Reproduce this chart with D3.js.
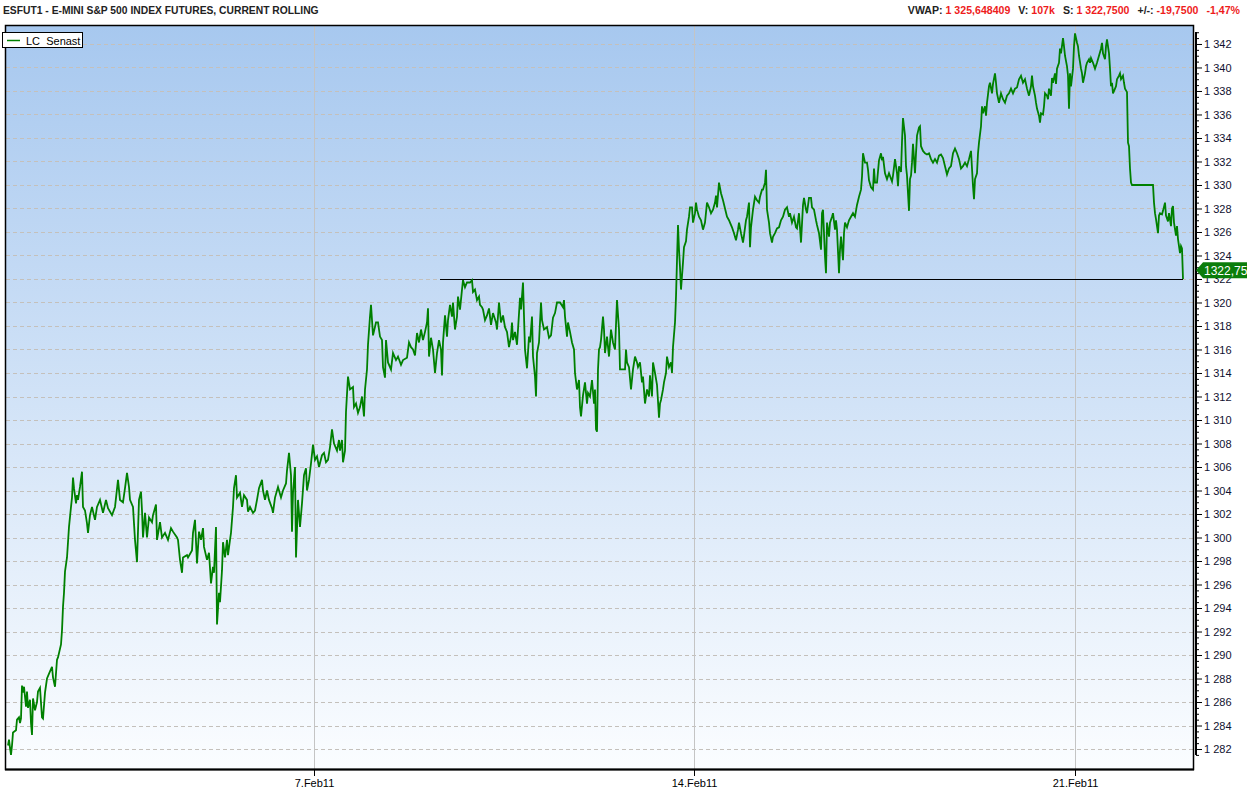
<!DOCTYPE html>
<html>
<head>
<meta charset="utf-8">
<script src="https://cdn.jsdelivr.net/npm/d3@7"></script>
<style>
  body { margin: 0; background: #fff; }
  svg { display: block; font-family: "Liberation Sans", Arial, sans-serif; }
</style>
</head>
<body>
<svg id="chart" width="1247" height="791"></svg>
<script>
// --- data -------------------------------------------------------------
const title = "ESFUT1 - E-MINI S&P 500 INDEX FUTURES, CURRENT ROLLING";
const statNames  = ["VWAP:", "V:", "S:", "+/-:", ""];
const statValues = ["1 325,648409", "107k", "1 322,7500", "-19,7500", "-1,47%"];
const seriesName = "LC  Senast";

// week start ticks, as bar number (intraday bars)
const dateTicks  = [306, 686, 1067];
const dateLabels = ["7.Feb11", "14.Feb11", "21.Feb11"];

const priceTicks = [1282, 1284, 1286, 1288, 1290, 1292, 1294, 1296, 1298, 1300, 1302, 1304,
  1306, 1308, 1310, 1312, 1314, 1316, 1318, 1320, 1322, 1324, 1326, 1328, 1330, 1332, 1334,
  1336, 1338, 1340, 1342];

const lastPrice = 1322.75;
const lastLabel = "1322,75";
const refLevel = 1322.0;       // horizontal line
const refFrom = 432, refTo = 1175;

// [bar, price]
const lcSenast = [
[0,1282.3],[1,1282.8],[2,1282.1],[3,1281.5],[4,1282.3],[5,1283.4],[8,1283.6],[9,1284.5],[11,1284.7],[12,1284.2],
[13,1284.6],[14,1287.4],[15,1286.8],[16,1287.3],[18,1285.6],[19,1286.9],[20,1285.5],[22,1286.2],[23,1284.2],[24,1283.2],
[25,1286.3],[27,1285.3],[29,1286.0],[30,1286.9],[32,1287.2],[34,1284.7],[35,1284.6],[37,1286.8],[39,1288.0],[42,1288.6],
[44,1289.0],[45,1288.1],[47,1287.3],[49,1289.6],[50,1289.8],[53,1290.9],[54,1292.1],[55,1294.1],[56,1295.3],[57,1297.1],
[59,1298.3],[60,1299.6],[61,1300.9],[63,1302.6],[64,1303.4],[65,1305.1],[66,1304.2],[68,1302.9],[69,1303.6],[70,1303.2],
[72,1304.3],[74,1305.6],[75,1302.6],[77,1302.3],[79,1301.2],[80,1300.4],[82,1301.9],[84,1302.6],[87,1301.5],[89,1302.6],
[92,1303.2],[95,1302.1],[98,1303.2],[100,1302.5],[104,1301.9],[107,1302.6],[110,1304.9],[112,1303.2],[115,1303.0],[117,1304.2],
[119,1305.5],[121,1304.3],[122,1303.2],[125,1302.6],[126,1301.2],[127,1299.8],[129,1297.9],[131,1303.2],[133,1303.9],[134,1302.3],
[135,1300.0],[137,1302.1],[139,1300.0],[141,1301.7],[144,1301.3],[145,1301.9],[148,1302.8],[149,1299.8],[152,1301.3],[154,1300.0],
[157,1300.4],[160,1299.8],[163,1300.8],[165,1300.5],[169,1300.0],[170,1299.8],[172,1298.1],[174,1297.0],[175,1298.3],[179,1298.5],
[180,1298.3],[184,1298.9],[185,1300.4],[187,1301.5],[189,1297.8],[191,1300.5],[193,1299.8],[195,1300.8],[196,1299.2],[199,1298.1],
[201,1298.7],[203,1296.1],[205,1297.5],[206,1297.0],[208,1300.9],[209,1292.6],[211,1295.3],[212,1294.5],[214,1297.2],[215,1299.6],
[217,1298.3],[219,1299.8],[220,1298.5],[222,1299.8],[223,1300.4],[225,1302.6],[226,1304.2],[228,1305.3],[229,1303.4],[232,1303.8],
[234,1302.6],[236,1303.6],[239,1303.2],[240,1302.2],[242,1302.6],[245,1302.1],[247,1302.3],[249,1303.2],[251,1304.2],[254,1304.9],
[255,1304.0],[257,1303.2],[259,1304.0],[261,1303.2],[264,1302.5],[265,1302.1],[267,1303.4],[270,1304.3],[273,1303.4],[275,1304.0],
[278,1304.6],[279,1305.7],[281,1307.2],[283,1305.3],[284,1300.5],[285,1303.8],[287,1306.0],[288,1298.3],[290,1303.2],[292,1300.9],
[294,1302.9],[296,1305.3],[298,1305.9],[299,1304.0],[301,1304.9],[303,1306.3],[305,1307.9],[307,1306.6],[309,1306.9],[311,1306.0],
[314,1307.0],[316,1307.2],[318,1306.4],[320,1306.6],[322,1307.7],[324,1309.2],[326,1308.0],[329,1307.4],[331,1308.3],[332,1307.4],
[334,1308.3],[335,1306.4],[337,1307.4],[338,1310.7],[340,1313.7],[342,1312.6],[345,1312.8],[346,1311.1],[348,1311.4],[350,1310.6],
[352,1311.1],[354,1312.0],[356,1310.3],[357,1312.6],[359,1314.3],[360,1316.4],[362,1318.8],[363,1319.8],[365,1317.2],[368,1318.3],
[370,1318.3],[372,1317.1],[374,1316.8],[375,1314.5],[377,1313.6],[378,1316.8],[380,1314.9],[383,1314.3],[385,1315.7],[388,1315.1],
[390,1315.4],[393,1314.7],[395,1315.1],[399,1315.3],[401,1316.6],[403,1316.2],[405,1316.0],[407,1315.5],[409,1317.4],[411,1316.6],
[413,1317.7],[415,1316.8],[417,1317.5],[419,1318.3],[420,1319.5],[421,1315.4],[423,1317.0],[425,1316.0],[427,1314.0],[429,1315.7],
[431,1316.8],[433,1316.0],[434,1313.8],[435,1316.6],[437,1318.9],[439,1317.1],[440,1318.5],[442,1319.8],[444,1318.8],[445,1320.0],
[447,1317.7],[449,1318.8],[450,1320.5],[452,1319.4],[454,1321.1],[455,1321.9],[457,1321.3],[459,1321.7],[462,1321.7],[464,1321.9],
[465,1320.9],[467,1321.1],[469,1320.2],[471,1320.5],[472,1319.8],[474,1319.6],[475,1319.4],[477,1318.5],[479,1318.9],[481,1319.5],
[483,1318.1],[485,1319.1],[488,1318.3],[489,1317.7],[491,1320.0],[493,1318.3],[495,1318.9],[497,1317.9],[499,1317.5],[501,1316.2],
[503,1317.1],[504,1318.3],[505,1316.8],[507,1317.5],[509,1316.4],[510,1317.7],[512,1320.4],[513,1319.4],[515,1321.7],[517,1316.0],
[519,1314.4],[521,1317.1],[522,1316.6],[524,1318.8],[525,1315.4],[527,1313.7],[528,1312.0],[529,1315.7],[531,1316.6],[533,1320.0],
[534,1318.5],[536,1317.7],[539,1317.9],[541,1317.0],[543,1317.2],[545,1318.7],[547,1319.1],[549,1320.0],[552,1320.0],[555,1319.6],
[556,1320.2],[557,1318.8],[559,1317.1],[560,1318.3],[562,1317.5],[564,1316.6],[566,1316.0],[567,1314.0],[569,1312.6],[571,1313.4],
[572,1311.1],[573,1310.3],[575,1312.1],[577,1313.2],[579,1311.4],[580,1312.3],[582,1312.0],[584,1313.4],[586,1311.4],[587,1312.6],
[588,1309.2],[589,1309.0],[590,1314.3],[591,1316.0],[592,1316.2],[593,1316.8],[595,1318.8],[596,1317.7],[597,1315.7],[599,1317.1],
[601,1315.4],[603,1317.7],[605,1316.6],[607,1316.0],[609,1320.2],[611,1317.7],[612,1314.3],[614,1314.3],[617,1314.3],[618,1316.0],
[619,1314.9],[621,1314.5],[623,1312.6],[625,1314.3],[627,1315.4],[629,1314.9],[630,1314.5],[632,1314.9],[634,1313.2],[635,1313.7],
[637,1311.4],[639,1312.6],[641,1312.0],[642,1313.8],[644,1312.0],[645,1314.9],[647,1314.0],[649,1313.0],[651,1310.2],[652,1311.4],
[653,1311.7],[655,1312.6],[656,1313.2],[658,1314.0],[659,1315.4],[661,1314.5],[663,1314.9],[664,1314.0],[665,1316.2],[667,1318.3],
[668,1320.5],[669,1323.6],[670,1326.6],[671,1324.5],[672,1323.0],[673,1321.1],[675,1323.4],[676,1324.7],[678,1325.2],[679,1326.2],
[681,1327.3],[682,1328.1],[684,1328.1],[685,1326.8],[687,1327.6],[688,1328.5],[689,1327.9],[691,1327.3],[693,1327.0],[695,1326.2],
[697,1326.8],[699,1328.5],[701,1328.1],[703,1327.6],[705,1327.9],[707,1328.5],[708,1329.1],[709,1328.1],[711,1330.2],[713,1329.3],
[715,1328.7],[717,1328.0],[719,1327.3],[721,1327.0],[722,1326.8],[724,1326.4],[726,1325.9],[728,1325.3],[730,1326.2],[731,1326.8],
[733,1325.9],[735,1325.1],[736,1325.7],[738,1327.0],[739,1327.3],[741,1328.5],[742,1324.7],[743,1326.4],[745,1327.9],[747,1329.0],
[749,1328.7],[751,1328.5],[752,1329.0],[754,1329.6],[755,1329.6],[757,1330.2],[758,1331.3],[759,1327.9],[761,1326.8],[762,1325.9],
[764,1325.1],[765,1325.6],[767,1325.9],[769,1326.3],[771,1326.4],[773,1327.0],[775,1327.3],[777,1327.9],[779,1328.1],[781,1327.3],
[782,1327.6],[784,1326.8],[786,1327.3],[788,1326.4],[789,1326.3],[791,1327.6],[793,1325.1],[795,1328.3],[796,1328.9],[798,1327.9],
[799,1327.6],[801,1328.9],[803,1328.9],[804,1328.1],[806,1327.9],[808,1327.0],[809,1326.6],[811,1325.9],[813,1324.5],[814,1327.6],
[815,1327.9],[817,1323.9],[818,1322.5],[819,1326.8],[821,1325.6],[822,1326.8],[824,1327.3],[825,1327.6],[827,1326.2],[828,1327.0],
[829,1326.2],[831,1322.5],[832,1324.5],[833,1325.6],[835,1323.6],[836,1325.9],[837,1326.8],[839,1326.4],[841,1327.0],[843,1327.3],
[845,1327.6],[847,1327.3],[849,1328.3],[851,1329.0],[853,1329.6],[854,1330.7],[855,1332.7],[857,1331.9],[859,1331.9],[860,1331.3],
[861,1330.4],[863,1329.8],[865,1329.6],[866,1331.4],[867,1330.2],[869,1330.2],[871,1332.1],[873,1332.7],[874,1332.1],[875,1332.4],
[877,1331.0],[879,1330.5],[881,1331.0],[884,1330.3],[885,1330.8],[887,1332.2],[889,1331.0],[890,1329.9],[891,1331.6],[893,1331.1],
[894,1333.7],[895,1335.7],[897,1334.2],[898,1331.6],[899,1330.8],[901,1327.8],[902,1330.5],[903,1330.8],[904,1331.9],[905,1333.5],
[907,1331.0],[908,1332.7],[909,1334.2],[911,1334.9],[912,1335.0],[913,1333.3],[915,1332.9],[917,1332.7],[919,1332.6],[921,1332.7],
[923,1332.2],[925,1331.9],[927,1332.2],[929,1331.9],[931,1332.5],[933,1332.6],[935,1332.3],[937,1331.6],[939,1330.9],[941,1331.4],
[943,1331.6],[945,1332.7],[947,1333.1],[949,1332.7],[951,1332.2],[953,1331.4],[955,1331.6],[957,1331.9],[959,1331.6],[961,1332.2],
[963,1332.9],[964,1331.4],[965,1329.9],[966,1328.8],[967,1330.5],[969,1331.0],[970,1332.7],[971,1333.6],[973,1335.0],[974,1336.7],
[975,1336.1],[977,1336.7],[978,1335.9],[979,1337.0],[981,1338.4],[982,1338.7],[984,1337.8],[985,1338.6],[987,1339.5],[988,1338.7],
[989,1337.8],[991,1337.0],[993,1337.8],[995,1337.3],[997,1337.0],[999,1337.6],[1001,1337.8],[1003,1338.2],[1005,1337.8],[1007,1338.2],
[1009,1338.3],[1011,1339.0],[1013,1339.3],[1015,1338.7],[1017,1339.0],[1019,1338.2],[1021,1337.6],[1023,1338.4],[1024,1339.3],[1025,1338.4],
[1027,1337.6],[1028,1337.0],[1029,1336.5],[1031,1335.9],[1032,1335.3],[1033,1336.1],[1035,1336.0],[1036,1336.7],[1037,1337.8],[1039,1337.6],
[1040,1337.3],[1041,1338.2],[1043,1337.6],[1044,1339.1],[1045,1338.7],[1047,1339.5],[1048,1338.6],[1049,1339.9],[1051,1340.4],[1052,1341.6],
[1053,1341.2],[1055,1342.5],[1056,1341.8],[1057,1341.0],[1059,1340.1],[1060,1339.3],[1061,1336.5],[1062,1339.5],[1063,1338.4],[1065,1339.9],
[1066,1341.8],[1067,1342.9],[1069,1342.1],[1070,1341.8],[1071,1341.0],[1073,1339.9],[1074,1339.5],[1075,1338.7],[1077,1339.5],[1078,1340.1],
[1079,1340.4],[1081,1340.7],[1082,1340.4],[1083,1340.8],[1085,1340.4],[1087,1339.9],[1089,1340.4],[1090,1340.7],[1091,1341.0],[1093,1341.6],
[1094,1342.1],[1095,1341.2],[1097,1340.7],[1098,1341.8],[1099,1342.4],[1101,1341.2],[1102,1339.9],[1103,1338.4],[1104,1338.7],[1105,1337.8],
[1107,1338.2],[1108,1338.4],[1109,1339.0],[1111,1339.3],[1112,1339.5],[1113,1339.0],[1115,1339.3],[1116,1338.7],[1117,1338.2],[1119,1337.9],
[1120,1333.6],[1121,1333.3],[1122,1331.4],[1123,1330.2],[1124,1330.0],[1145,1330.0],[1146,1328.5],[1147,1327.6],[1148,1327.1],[1149,1326.5],
[1150,1325.9],[1151,1327.4],[1152,1327.6],[1154,1327.5],[1155,1327.8],[1157,1328.5],[1158,1327.4],[1160,1326.9],[1161,1327.6],[1163,1326.5],
[1164,1328.0],[1165,1328.2],[1166,1326.8],[1168,1325.7],[1169,1326.5],[1170,1325.4],[1172,1324.2],[1173,1324.8],[1174,1324.6],[1175,1322.0]
];

// --- layout -----------------------------------------------------------
const plot = { left: 6, right: 1193, top: 26, bottom: 769 };

const svg = d3.select("#chart");

const x = d3.scaleLinear().domain([-2, 1185]).range([plot.left, plot.right]);
const y = d3.scaleLinear().domain([1280.3, 1343.53]).range([plot.bottom, plot.top]);

// background gradient
const defs = svg.append("defs");
const grad = defs.append("linearGradient").attr("id", "bg")
    .attr("x1", 0).attr("y1", 0).attr("x2", 0).attr("y2", 1);
grad.append("stop").attr("offset", "0%").attr("stop-color", "#a7c8ef");
grad.append("stop").attr("offset", "100%").attr("stop-color", "#fbfdff");

defs.append("clipPath").attr("id", "clip")
  .append("rect")
    .attr("x", plot.left).attr("y", plot.top)
    .attr("width", plot.right - plot.left).attr("height", plot.bottom - plot.top);

svg.append("rect")
    .attr("x", plot.left).attr("y", plot.top)
    .attr("width", plot.right - plot.left).attr("height", plot.bottom - plot.top)
    .attr("fill", "url(#bg)");

// horizontal dashed grid
svg.append("g")
  .selectAll("line")
  .data(priceTicks)
  .join("line")
    .attr("x1", plot.left).attr("x2", plot.right)
    .attr("y1", d => Math.round(y(d)) + 0.5).attr("y2", d => Math.round(y(d)) + 0.5)
    .attr("stroke", "#c4c0bb")
    .attr("stroke-dasharray", "4,3");

// vertical grid at week starts
svg.append("g")
  .selectAll("line")
  .data(dateTicks)
  .join("line")
    .attr("x1", d => Math.round(x(d)) + 0.5).attr("x2", d => Math.round(x(d)) + 0.5)
    .attr("y1", plot.top).attr("y2", plot.bottom)
    .attr("stroke", "#c4c4c4");

// reference line
svg.append("line")
    .attr("x1", x(refFrom)).attr("x2", x(refTo))
    .attr("y1", Math.round(y(refLevel)) + 0.5).attr("y2", Math.round(y(refLevel)) + 0.5)
    .attr("stroke", "#000").attr("stroke-width", 1.2);

// price line
const line = d3.line().x(d => x(d[0])).y(d => y(d[1]));
svg.append("path")
    .datum(lcSenast)
    .attr("clip-path", "url(#clip)")
    .attr("fill", "none")
    .attr("stroke", "#008000")
    .attr("stroke-width", 1.8)
    .attr("stroke-linejoin", "miter")
    .attr("d", line);

// frame
svg.append("rect")
    .attr("x", plot.left - 0.5).attr("y", plot.top - 0.5)
    .attr("width", plot.right - plot.left + 1).attr("height", plot.bottom - plot.top + 1)
    .attr("fill", "none").attr("stroke", "#000").attr("stroke-width", 1.5);
svg.append("line")
    .attr("x1", plot.left - 1).attr("x2", plot.right + 1)
    .attr("y1", plot.bottom + 0.5).attr("y2", plot.bottom + 0.5)
    .attr("stroke", "#000").attr("stroke-width", 2);

// bottom axis
const xAxis = d3.axisBottom(x)
    .tickValues(dateTicks)
    .tickFormat((d, i) => dateLabels[i])
    .tickSize(7)
    .tickPadding(3);
const gx = svg.append("g").attr("transform", `translate(0,${plot.bottom})`).call(xAxis);
gx.select(".domain").remove();
gx.selectAll(".tick line").attr("stroke", "#000");
gx.selectAll(".tick text")
    .attr("font-family", "Liberation Sans, Arial, sans-serif")
    .attr("font-size", 11).attr("fill", "#000");

// right axis
const fmt = d => d3.format(",")(d).replace(",", " ");
const yAxis = d3.axisRight(y).tickValues(priceTicks).tickFormat(fmt).tickSize(6).tickPadding(2);
const gy = svg.append("g").attr("transform", "translate(1196,0)").call(yAxis);
gy.select(".domain").remove();
gy.selectAll(".tick line").attr("stroke", "#000");
gy.selectAll(".tick text")
    .attr("font-family", "Liberation Sans, Arial, sans-serif")
    .attr("font-size", 11).attr("fill", "#101030");

// minor ticks
const minorTicks = d3.range(1281.5, 1343.1, 0.5).filter(v => v % 2 !== 0);
const gm = svg.append("g").attr("transform", "translate(1196,0)")
    .call(d3.axisRight(y).tickValues(minorTicks).tickFormat("").tickSize(3));
gm.select(".domain").remove();
gm.selectAll(".tick line").attr("stroke", "#000");

svg.append("line")
    .attr("x1", 1196).attr("x2", 1196)
    .attr("y1", 32).attr("y2", 755)
    .attr("stroke", "#000").attr("stroke-width", 2);

// last price tag
const ly = y(lastPrice);
svg.append("path")
    .attr("d", `M1196,${ly} L1203,${ly - 8} L1247,${ly - 8} L1247,${ly + 8} L1203,${ly + 8} Z`)
    .attr("fill", "#0b7d0b");
svg.append("text")
    .attr("x", 1204).attr("y", ly + 4.5)
    .attr("font-size", 12).attr("fill", "#fff")
    .text(lastLabel);

// legend
svg.append("rect")
    .attr("x", 2.5).attr("y", 32.5).attr("width", 80).attr("height", 15)
    .attr("fill", "#fff").attr("stroke", "#000");
svg.append("line")
    .attr("x1", 7).attr("x2", 20).attr("y1", 40.5).attr("y2", 40.5)
    .attr("stroke", "#008000").attr("stroke-width", 1.5);
svg.append("text")
    .attr("x", 26).attr("y", 44.5)
    .attr("font-size", 11).attr("fill", "#000")
    .style("white-space", "pre")
    .text(seriesName);

// header
svg.append("text")
    .attr("x", 3).attr("y", 14)
    .attr("font-size", 10.3).attr("font-weight", "bold").attr("fill", "#222")
    .text(title);

const stats = svg.append("text")
    .attr("x", 1240).attr("y", 14)
    .attr("text-anchor", "end")
    .attr("font-size", 10.6).attr("font-weight", "bold");
statNames.forEach((n, i) => {
  if (n) stats.append("tspan").attr("dx", i ? 8 : 0).attr("fill", "#222").text(n + " ");
  stats.append("tspan").attr("dx", n ? 0 : 8).attr("fill", "#ee1c1c").text(statValues[i]);
});
</script>
</body>
</html>
